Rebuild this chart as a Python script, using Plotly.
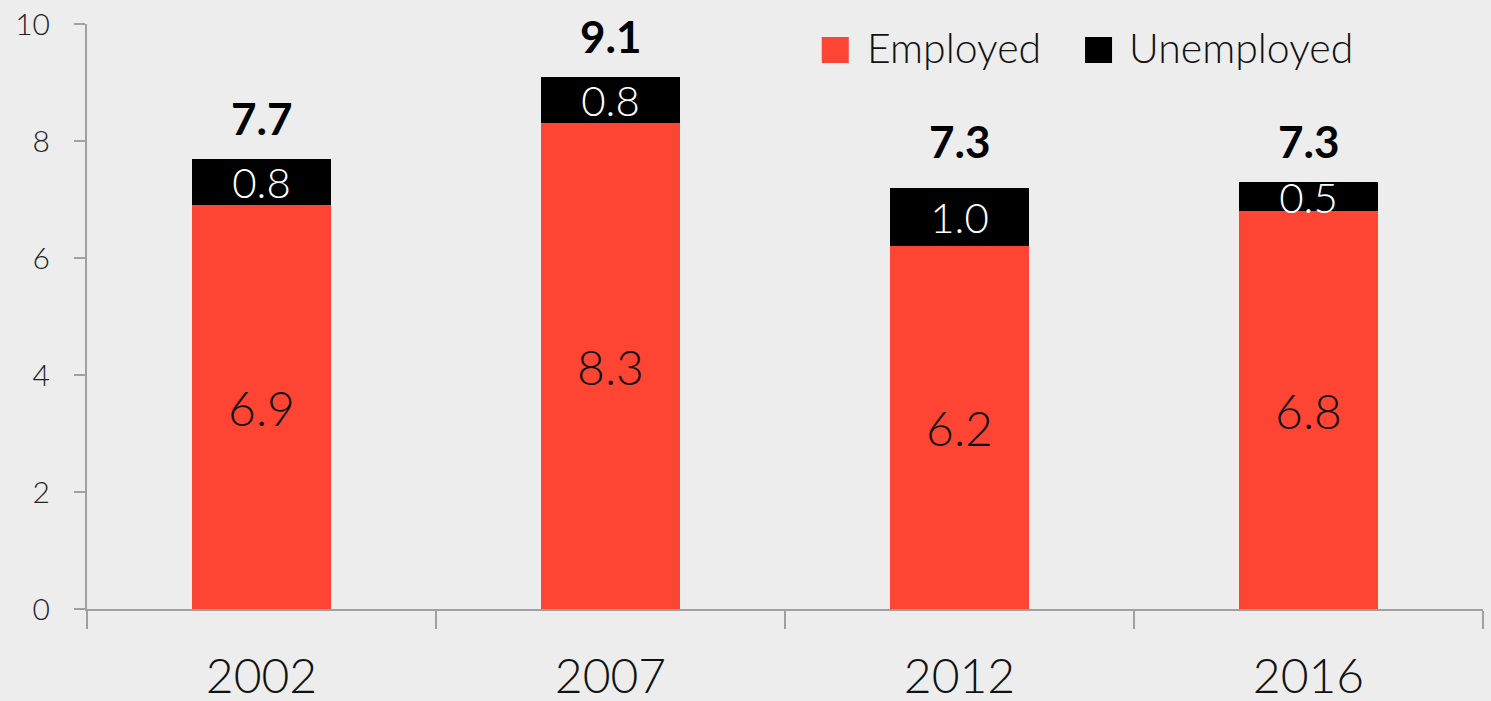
import plotly.graph_objects as go

# Data
years = ["2002", "2007", "2012", "2016"]
employed = [6.9, 8.3, 6.2, 6.8]
unemployed = [0.8, 0.8, 1.0, 0.5]
totals = [7.7, 9.1, 7.3, 7.3]
series_names = ["Employed", "Unemployed"]

RED = "#fe4433"
BLACK = "#000000"
BG = "#ededed"
AXIS = "#a0a0a0"
FONT = "Lato"
LIGHT = 300

fig = go.Figure()

fig.add_trace(go.Bar(
    x=years, y=employed, name=series_names[0], marker=dict(color=RED, line=dict(width=0)),
    text=[f"{v:.1f}" for v in employed], textposition="inside",
    insidetextanchor="middle", constraintext="none",
    textfont=dict(family=FONT, size=48, color="#111111", weight=LIGHT),
    showlegend=False, hoverinfo="skip",
))
fig.add_trace(go.Bar(
    x=years, y=unemployed, name=series_names[1], marker=dict(color=BLACK, line=dict(width=0)),
    text=[f"{v:.1f}" for v in unemployed], textposition="inside",
    insidetextanchor="middle", constraintext="none",
    textfont=dict(family=FONT, size=42, color="#ffffff", weight=LIGHT),
    showlegend=False, hoverinfo="skip",
))

# Total labels above each stack (x given as category index)
for i, t in enumerate(totals):
    fig.add_annotation(
        x=i, y=t, text=f"<b>{t:.1f}</b>", showarrow=False,
        yanchor="bottom", yshift=13,
        font=dict(family=FONT, size=44, color="#000000"),
    )

# Legend: square swatch + label for each series
legend_items = [(series_names[0], RED, 0.536, 0.5573), (series_names[1], BLACK, 0.7246, 0.745)]
for name, color, sx, tx in legend_items:
    fig.add_shape(
        type="rect", xref="paper", yref="paper",
        xsizemode="pixel", ysizemode="pixel",
        xanchor=sx, yanchor=0.9556,
        x0=-13.5, x1=13.5, y0=-13, y1=13,
        fillcolor=color, line=dict(width=0), layer="above",
    )
    fig.add_annotation(
        xref="paper", yref="paper", x=tx, y=0.9556, text=name, showarrow=False,
        xanchor="left", yanchor="middle", yshift=2,
        font=dict(family=FONT, size=41, color="#111111", weight=LIGHT),
    )

fig.update_layout(
    width=1491, height=701,
    margin=dict(l=87, r=8, t=24, b=92),
    paper_bgcolor=BG, plot_bgcolor=BG,
    barmode="stack", bargap=0.6,
    font=dict(family=FONT, color="#222222"),
    showlegend=False,
    xaxis=dict(
        type="category", categoryorder="array", categoryarray=years,
        range=[-0.5, len(years) - 0.5],
        showline=True, linecolor=AXIS, linewidth=2,
        ticks="outside", tickson="boundaries", ticklen=18, tickcolor=AXIS, tickwidth=2,
        ticklabelstandoff=24,
        tickfont=dict(family=FONT, size=48, color="#111111", weight=LIGHT),
        showgrid=False, zeroline=False, fixedrange=True, automargin=False,
    ),
    yaxis=dict(
        range=[0, 10], tickvals=[0, 2, 4, 6, 8, 10],
        showline=True, linecolor=AXIS, linewidth=2,
        ticks="outside", ticklen=11, tickcolor=AXIS, tickwidth=2,
        ticklabelstandoff=18,
        tickfont=dict(family=FONT, size=30, color="#222222", weight=LIGHT),
        showgrid=False, zeroline=False, automargin=False,
    ),
)

fig.write_html("out.html")
